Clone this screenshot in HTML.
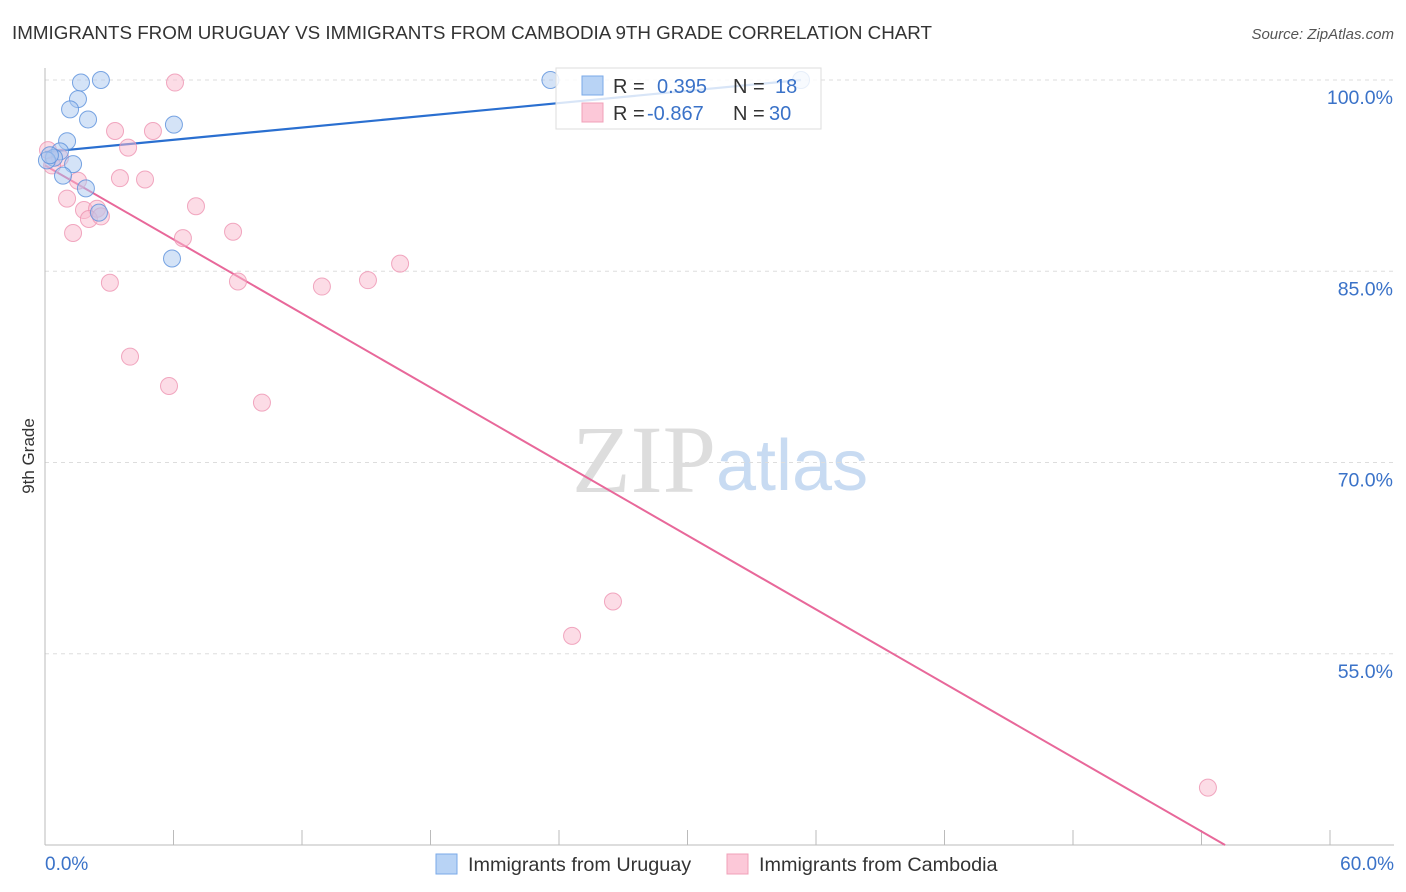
<!DOCTYPE html>
<html><head><meta charset="utf-8"><style>
body{margin:0;background:#fff;font-family:"Liberation Sans",sans-serif}
svg{display:block}
</style></head><body>
<svg id="chart" width="1406" height="892" xmlns="http://www.w3.org/2000/svg">
<text x="12" y="39" font-size="18.8" fill="#333">IMMIGRANTS FROM URUGUAY VS IMMIGRANTS FROM CAMBODIA 9TH GRADE CORRELATION CHART</text>
<text x="1394" y="39" font-size="15" fill="#555" font-style="italic" text-anchor="end">Source: ZipAtlas.com</text>
<text x="716" y="492" font-size="96" fill="#ddd" font-family="Liberation Serif" text-anchor="end">ZIP</text>
<text x="716" y="490" font-size="72" fill="#c8dbf2">atlas</text>
<text transform="translate(34,456) rotate(-90)" font-size="17" fill="#333" text-anchor="middle">9th Grade</text>
<g id="grid"></g><g id="axes"></g><g id="lines"></g><g id="points"></g>
<g>
<rect x="556" y="68" width="265" height="61" fill="#fff" fill-opacity="0.82" stroke="#ddd"/>
<rect x="582" y="76" width="21" height="19" fill="#b8d3f5" stroke="#7aaae8"/>
<rect x="582" y="103" width="21" height="19" fill="#fcc8d8" stroke="#f0a0b8"/>
<text x="613" y="93" font-size="20" fill="#333">R = </text><text x="657" y="93" font-size="20" fill="#3a72c8">0.395</text>
<text x="733" y="93" font-size="20" fill="#333">N = </text><text x="775" y="93" font-size="20" fill="#3a72c8">18</text>
<text x="613" y="120" font-size="20" fill="#333">R = </text><text x="647" y="120" font-size="20" fill="#3a72c8">-0.867</text>
<text x="733" y="120" font-size="20" fill="#333">N = </text><text x="769" y="120" font-size="20" fill="#3a72c8">30</text>
</g>
<g>
<rect x="436" y="854" width="21" height="20" fill="#b8d3f5" stroke="#7aaae8"/>
<text x="468" y="871" font-size="19.8" fill="#333">Immigrants from Uruguay</text>
<rect x="727" y="854" width="21" height="20" fill="#fcc8d8" stroke="#f0a0b8"/>
<text x="759" y="871" font-size="19.8" fill="#333">Immigrants from Cambodia</text>
</g>
</svg>
<script>
const yTicks=[100,85,70,55];
const yTickLabels=["100.0%","85.0%","70.0%","55.0%"];
const xEndLabels=["0.0%","60.0%"];
const uruguayX=[2.61,1.68,1.54,1.17,2.01,6.02,1.03,0.70,0.42,0.09,1.31,0.84,1.91,2.52,5.93,23.6,35.3,0.23];
const uruguayY=[100,99.8,98.5,97.7,96.9,96.5,95.2,94.4,93.9,93.7,93.4,92.5,91.5,89.6,86.0,100,100,94.1];
const cambodiaX=[6.07,3.27,5.04,3.88,0.14,0.70,0.33,3.50,4.67,1.54,1.03,7.05,1.82,2.43,2.05,2.61,1.31,6.44,8.78,3.03,9.01,12.93,15.08,16.58,3.97,5.79,10.13,26.52,24.61,54.30];
const cambodiaY=[99.8,96.0,96.0,94.7,94.5,93.9,93.3,92.3,92.2,92.1,90.7,90.1,89.8,89.9,89.1,89.3,88.0,87.6,88.1,84.1,84.2,83.8,84.3,85.6,78.3,76.0,74.7,59.1,56.4,44.5];
const uruguayTrendX=[0,35.3];
const uruguayTrendY=[94.35,100];
const cambodiaTrendX=[0,55.1];
const cambodiaTrendY=[93.3,40];

const X=v=>45+v*1285/60;
const Y=v=>80+(100-v)*12.75;
const NS="http://www.w3.org/2000/svg";
function mk(parent,tag,attrs){const e=document.createElementNS(NS,tag);for(const k in attrs)e.setAttribute(k,attrs[k]);document.getElementById(parent).appendChild(e);return e;}
yTicks.forEach((t,i)=>{
  const l=mk('grid','line',{x1:45,x2:1394,y1:Y(t),y2:Y(t),stroke:'#ddd','stroke-dasharray':'4,4'});
  
  
  const tx=mk('grid','text',{x:1393,y:Y(t)+24,'font-size':19.5,fill:'#3a72c8','text-anchor':'end'});
  tx.textContent=yTickLabels[i];
  
  
});
const ax=mk('axes','line',{x1:45,x2:45,y1:68,y2:845,stroke:'#bbb'});


const bx=mk('axes','line',{x1:45,x2:1394,y1:845,y2:845,stroke:'#bbb'});


for(let i=0;i<=10;i++){
  const t=mk('axes','line',{x1:X(i*6),x2:X(i*6),y1:830,y2:845,stroke:'#bbb'});
  
  
}
[[0,'start',45],[60,'end',1394]].forEach((d,i)=>{
  const t=mk('axes','text',{x:d[2],y:870,'font-size':19,fill:'#3a72c8','text-anchor':d[1]});
  t.textContent=xEndLabels[i];
  
  
});
const tl1=mk('lines','line',{x1:X(uruguayTrendX[0]),y1:Y(uruguayTrendY[0]),x2:X(uruguayTrendX[1]),y2:Y(uruguayTrendY[1]),stroke:'#2a6fd0','stroke-width':2.2});


const tl2=mk('lines','line',{x1:X(cambodiaTrendX[0]),y1:Y(cambodiaTrendY[0]),x2:X(cambodiaTrendX[1]),y2:Y(cambodiaTrendY[1]),stroke:'#e8689a','stroke-width':2});


cambodiaX.forEach((v,i)=>{
  const c=mk('points','circle',{cx:X(v),cy:Y(cambodiaY[i]),r:8.5,fill:'#f9b9cd','fill-opacity':0.5,stroke:'#ee94b2','stroke-opacity':0.8});
  
  
});
uruguayX.forEach((v,i)=>{
  const c=mk('points','circle',{cx:X(v),cy:Y(uruguayY[i]),r:8.5,fill:'#a9c8f0','fill-opacity':0.5,stroke:'#5a90dc','stroke-opacity':0.8});
  
  
});
</script>
</body></html>
